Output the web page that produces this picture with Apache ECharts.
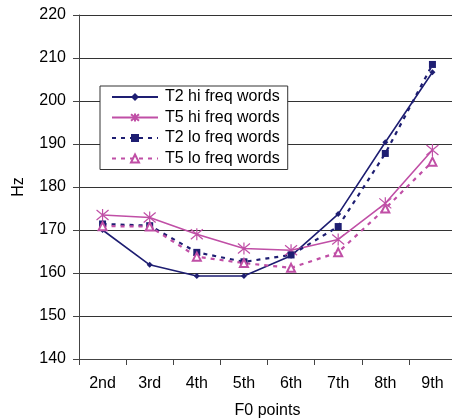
<!DOCTYPE html>
<html><head><meta charset="utf-8">
<script src="https://cdn.jsdelivr.net/npm/echarts@6/dist/echarts.min.js"></script>
<style>html,body{margin:0;padding:0;background:#fff}#c{width:452px;height:418px}</style>
</head><body><div id="c"></div>
<script>
const categories = ['2nd','3rd','4th','5th','6th','7th','8th','9th'];
const t2Hi = [170.0, 161.9, 159.3, 159.3, 164.0, 173.7, 190.4, 206.7];
const t5Hi = [173.5, 172.9, 169.0, 165.7, 165.3, 167.8, 176.2, 188.6];
const t2Lo = [171.4, 171.0, 164.8, 162.6, 164.2, 170.8, 187.8, 208.5];
const t5Lo = [170.9, 170.8, 163.8, 162.3, 161.2, 164.8, 175.0, 185.9];
const seriesNames = ['T2 hi freq words','T5 hi freq words','T2 lo freq words','T5 lo freq words'];

const navy = '#1e1e72';
const pink = '#c04fa6';
const font = 'Liberation Sans, Arial, sans-serif';
const chart = echarts.init(document.getElementById('c'), null, {renderer:'canvas'});
const star = 'path://M0,0L10,10M10,0L0,10M5,-1L5,11';
chart.setOption({
  animation:false,
  grid:{left:79, top:15, bottom:59, right:-4, containLabel:false, outerBoundsMode:'none'},
  legend:{
    orient:'vertical', left:100, top:86, data:seriesNames,
    backgroundColor:'#fff', borderColor:'#333', borderWidth:1,
    padding:[3,8,3,11], itemGap:4.5, itemWidth:46, itemHeight:10,
    textStyle:{fontFamily:font, fontSize:16, color:'#000', padding:[0,0,0,2]}
  },
  xAxis:{
    type:'category', data:categories, boundaryGap:true,
    name:'F0 points', nameLocation:'middle', nameGap:44,
    nameTextStyle:{fontFamily:font, fontSize:16, color:'#000'},
    axisLine:{lineStyle:{color:'#444', width:1}},
    axisTick:{show:true, length:6, lineStyle:{color:'#444'}},
    axisLabel:{fontFamily:font, fontSize:16, color:'#000', margin:17}
  },
  yAxis:{
    type:'value', min:140, max:220, interval:10,
    name:'Hz', nameLocation:'middle', nameGap:52,
    nameTextStyle:{fontFamily:font, fontSize:16, color:'#000'},
    axisLine:{show:true, lineStyle:{color:'#444', width:1}},
    axisTick:{show:true, length:6, lineStyle:{color:'#444'}},
    axisLabel:{fontFamily:font, fontSize:16, color:'#000', margin:13},
    splitLine:{lineStyle:{color:'#333', width:1}}
  },
  series:[
    {name:seriesNames[0], type:'line', data:t2Hi, symbol:'diamond', symbolSize:6,
     lineStyle:{color:navy, width:1.6}, itemStyle:{color:navy}},
    {name:seriesNames[1], type:'line', data:t5Hi, symbol:star, symbolSize:12,
     lineStyle:{color:pink, width:1.6}, itemStyle:{color:'rgba(0,0,0,0)', borderColor:pink, borderWidth:1.2}},
    {name:seriesNames[2], type:'line', data:t2Lo, symbol:'rect', symbolSize:7,
     lineStyle:{color:navy, width:2.2, type:[4,5]}, itemStyle:{color:navy}},
    {name:seriesNames[3], type:'line', data:t5Lo, symbol:'emptyTriangle', symbolSize:8,
     lineStyle:{color:pink, width:2.2, type:[4,5]}, itemStyle:{color:pink, borderColor:pink, borderWidth:1}}
  ]
});
</script></body></html>
